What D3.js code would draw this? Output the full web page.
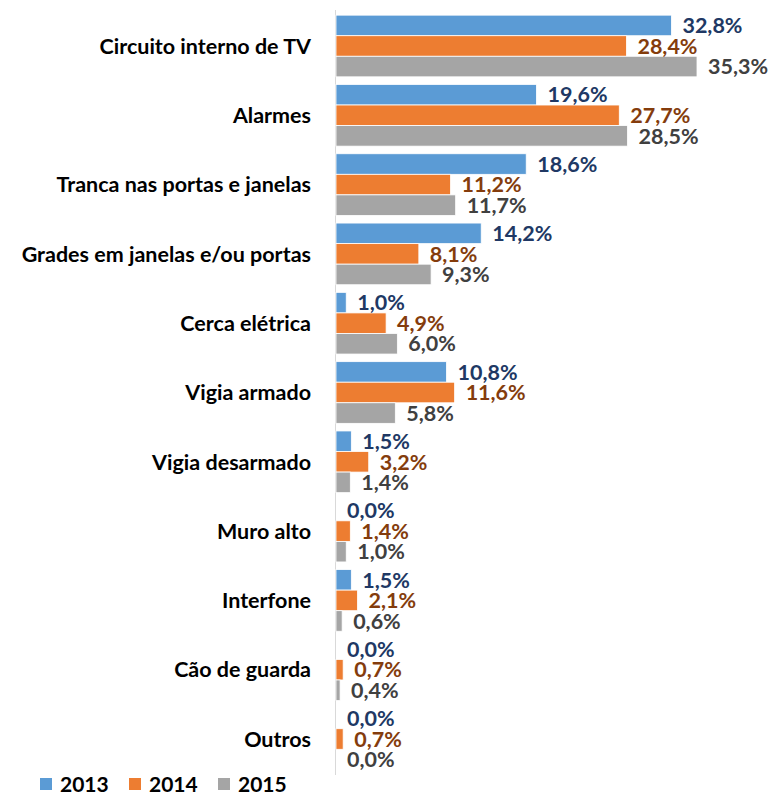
<!DOCTYPE html>
<html>
<head>
<meta charset="utf-8">
<script src="https://cdn.jsdelivr.net/npm/d3@7"></script>
<style>
  body { margin: 0; background: #fff; }
  svg text { font-family: Lato, "Open Sans", sans-serif; font-weight: bold; }
</style>
</head>
<body>
<script>
// Barras horizontais agrupadas por ano

let categories = ['Circuito interno de TV', 'Alarmes', 'Tranca nas portas e janelas',
  'Grades em janelas e/ou portas', 'Cerca elétrica', 'Vigia armado', 'Vigia desarmado',
  'Muro alto', 'Interfone', 'Cão de guarda', 'Outros']
let years = ['2013', '2014', '2015']
let values2013 = [32.8, 19.6, 18.6, 14.2, 1.0, 10.8, 1.5, 0.0, 1.5, 0.0, 0.0]
let values2014 = [28.4, 27.7, 11.2, 8.1, 4.9, 11.6, 3.2, 1.4, 2.1, 0.7, 0.7]
let values2015 = [35.3, 28.5, 11.7, 9.3, 6.0, 5.8, 1.4, 1.0, 0.6, 0.4, 0.0]
let barColors = ['#5b9bd5', '#ed7d31', '#a5a5a5']
let labelColors = ['#203864', '#843c0c', '#404040']

let series = [values2013, values2014, values2015]
let rows = categories.map(function (c, i) {
  return { cat: c, vals: series.map(function (s, j) { return { year: years[j], v: s[i], j: j } }) }
})

let W = 771
let H = 793
let left = 336

let svg = d3.select('body').append('svg')
  .attr('width', W)
  .attr('height', H)

let x = d3.scaleLinear().domain([0, 35.3]).range([left, 697])
let y = d3.scaleBand().domain(categories).range([11, 774]).paddingInner(0.11).paddingOuter(0.06)
let y1 = d3.scaleBand().domain(years).range([0, y.bandwidth()])

// eixo vertical
svg.append('line')
  .attr('x1', left - 0.5).attr('x2', left - 0.5)
  .attr('y1', 10).attr('y2', 775)
  .style('stroke', '#d9d9d9')
  .style('stroke-width', 1)

let groups = svg.selectAll('g.grp')
  .data(rows)
  .enter()
  .append('g')
  .attr('class', 'grp')
  .attr('transform', function (d) { return 'translate(0,' + y(d.cat) + ')' })

groups.selectAll('rect')
  .data(function (d) { return d.vals })
  .enter()
  .append('rect')
  .attr('x', x(0))
  .attr('y', function (d) { return y1(d.year) })
  .attr('width', function (d) { return x(d.v) - x(0) })
  .attr('height', y1.bandwidth())
  .style('fill', function (d) { return barColors[d.j] })
  .style('stroke', '#fff')
  .style('stroke-width', 0.8)

groups.selectAll('text.val')
  .data(function (d) { return d.vals })
  .enter()
  .append('text')
  .attr('class', 'val')
  .attr('x', function (d) { return x(d.v) + 11 })
  .attr('y', function (d) { return y1(d.year) + y1.bandwidth() / 2 })
  .attr('dy', '0.36em')
  .attr('font-size', '21.5px')
  .style('fill', function (d) { return labelColors[d.j] })
  .text(function (d) { return d.v.toFixed(1).replace('.', ',') + '%' })

groups.append('text')
  .attr('x', 311)
  .attr('y', y.bandwidth() / 2)
  .attr('dy', '0.36em')
  .attr('text-anchor', 'end')
  .attr('font-size', '21.5px')
  .style('fill', '#000')
  .text(function (d) { return d.cat })

// legenda
let legend = svg.selectAll('g.leg')
  .data(years)
  .enter()
  .append('g')
  .attr('class', 'leg')
  .attr('transform', function (d, i) { return 'translate(' + (40 + i * 89) + ',778)' })
legend.append('rect')
  .attr('width', 12).attr('height', 12)
  .style('fill', function (d, i) { return barColors[i] })
legend.append('text')
  .attr('x', 20)
  .attr('y', 6)
  .attr('dy', '0.36em')
  .attr('font-size', '21px')
  .style('fill', '#000')
  .text(function (d) { return d })
</script>
</body>
</html>
